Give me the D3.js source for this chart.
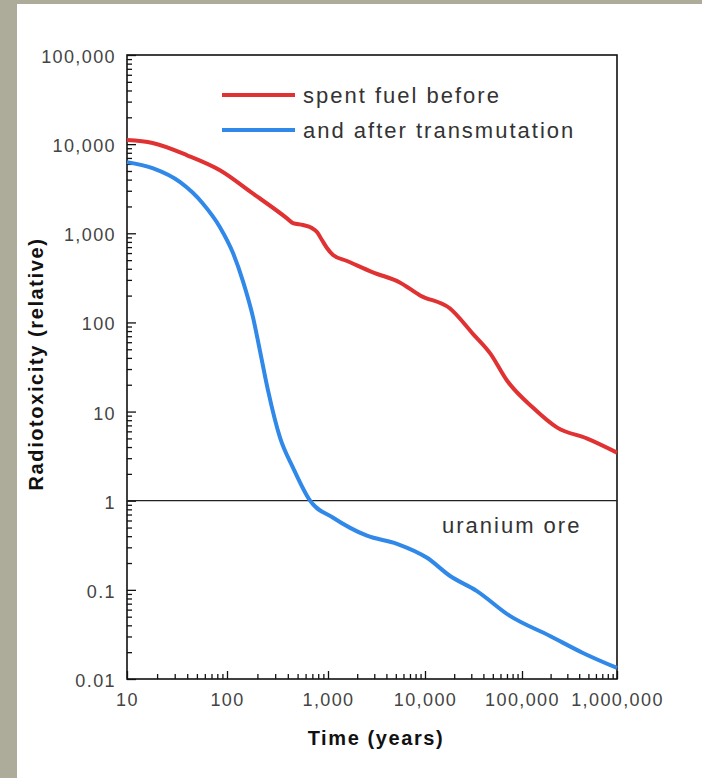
<!DOCTYPE html>
<html>
<head>
<meta charset="utf-8">
<script src="https://cdn.jsdelivr.net/npm/d3@7"></script>
<style>
  body { margin: 0; padding: 0; background: #adac9b; }
  svg { display: block; }
  .tick text { font-family: "Liberation Sans", Arial, sans-serif; font-size: 18px; fill: #444; letter-spacing: 1.4px; }
  .legend, .ore { font-family: "Liberation Sans", Arial, sans-serif; font-size: 22px; fill: #333; letter-spacing: 2px; }
  .title { font-family: "Liberation Sans", Arial, sans-serif; font-size: 20px; font-weight: bold; fill: #111; letter-spacing: 1.6px; }
</style>
</head>
<body>
<svg width="702" height="778"></svg>
<script>
// data
var redYears = [10, 18, 40, 85, 180, 390, 450, 565, 692, 778, 871, 977, 1127, 1570, 2900, 5500, 8900, 18000, 31000, 47000, 70000, 130000, 235000, 480000, 1000000];
var redValues = [11100, 10300, 7500, 5100, 2800, 1480, 1300, 1237, 1145, 1033, 841, 684, 571, 489, 365, 281, 201, 144, 75, 45, 22.3, 11.1, 6.6, 5.0, 3.46];

var blueYears = [10, 18, 34, 57, 85, 115, 144, 181, 212, 255, 335, 450, 664, 1130, 2520, 5140, 10500, 18000, 34000, 75000, 197000, 438000, 1000000];
var blueValues = [6280, 5370, 3740, 2175, 1170, 596, 289, 114, 48, 17.2, 5.1, 2.35, 1.0, 0.644, 0.405, 0.329, 0.229, 0.144, 0.0975, 0.051, 0.0304, 0.0196, 0.0133];

var xTicks = [10, 100, 1000, 10000, 100000, 1000000];
var yTicks = [0.01, 0.1, 1, 10, 100, 1000, 10000, 100000];
var oreLevel = 1;

var legendLabels = ["spent fuel before", "and after transmutation"];
var legendColors = ["#e03232", "#3088e8"];

var svg = d3.select("svg");

// white panel over the grey border
svg.append("rect")
  .attr("x", 17).attr("y", 4)
  .attr("width", 702 - 17).attr("height", 778 - 4)
  .attr("fill", "#ffffff");

var x = d3.scaleLog()
  .domain([10, 100, 1000, 10000, 100000, 1000000])
  .range([127, 227, 328, 425, 522, 617]);

var y = d3.scaleLog()
  .domain([0.01, 100000])
  .range([679, 55]);

// minor ticks 2..9 in every decade
function minors(lo, hi) {
  var out = [];
  for (var e = Math.log10(lo); e < Math.log10(hi); e++) {
    for (var k = 2; k <= 9; k++) out.push(k * Math.pow(10, e));
  }
  return out;
}

var fmt = d3.format(",");

// y axis
svg.append("g")
  .attr("transform", "translate(127,0)")
  .call(d3.axisLeft(y).tickValues(minors(0.01, 100000)).tickSize(-5).tickFormat(""))
  .call(g => g.select(".domain").remove());

svg.append("g")
  .attr("transform", "translate(127,0)")
  .call(d3.axisLeft(y).tickValues(yTicks).tickSize(-9).tickPadding(11).tickFormat(fmt))
  .call(g => g.select(".domain").remove())
  .call(g => g.selectAll("text").attr("dy", "0.42em"));

// x axis
svg.append("g")
  .attr("transform", "translate(0,679)")
  .call(d3.axisBottom(x).tickValues(minors(10, 1000000)).tickSize(-5).tickFormat(""))
  .call(g => g.select(".domain").remove());

svg.append("g")
  .attr("transform", "translate(0,679)")
  .call(d3.axisBottom(x).tickValues(xTicks).tickSize(-8).tickPadding(14).tickFormat(fmt))
  .call(g => g.select(".domain").remove());

svg.selectAll(".tick line").attr("stroke", "#111").attr("stroke-width", 1.3);

// frame
svg.append("rect")
  .attr("x", x(10)).attr("y", y(100000))
  .attr("width", x(1000000) - x(10))
  .attr("height", y(0.01) - y(100000))
  .attr("fill", "none")
  .attr("stroke", "#111")
  .attr("stroke-width", 1.6);

// uranium ore line
svg.append("line")
  .attr("x1", x(10)).attr("x2", x(1000000))
  .attr("y1", y(oreLevel)).attr("y2", y(oreLevel))
  .attr("stroke", "#222")
  .attr("stroke-width", 1.3);

svg.append("text")
  .attr("class", "ore")
  .attr("x", 442)
  .attr("y", 533)
  .text("uranium ore");

// curves
var line = d3.line()
  .x(d => x(d[0]))
  .y(d => y(d[1]))
  .curve(d3.curveMonotoneX);

var series = [
  d3.zip(redYears, redValues),
  d3.zip(blueYears, blueValues)
];

svg.selectAll(".curve")
  .data(series)
  .enter()
  .append("path")
  .attr("class", "curve")
  .attr("d", line)
  .attr("fill", "none")
  .attr("stroke", (d, i) => legendColors[i])
  .attr("stroke-width", 4)
  .attr("stroke-linejoin", "round");

// legend
legendLabels.forEach(function(label, i) {
  var ly = 95 + i * 35;
  svg.append("line")
    .attr("x1", 222).attr("x2", 295)
    .attr("y1", ly).attr("y2", ly)
    .attr("stroke", legendColors[i])
    .attr("stroke-width", 4);
  svg.append("text")
    .attr("class", "legend")
    .attr("x", 303)
    .attr("y", ly + 8)
    .text(label);
});

// axis titles
svg.append("text")
  .attr("class", "title")
  .attr("text-anchor", "middle")
  .attr("transform", "translate(43,364) rotate(-90)")
  .text("Radiotoxicity (relative)");

svg.append("text")
  .attr("class", "title")
  .attr("text-anchor", "middle")
  .attr("x", 376)
  .attr("y", 745)
  .text("Time (years)");
</script>
</body>
</html>
